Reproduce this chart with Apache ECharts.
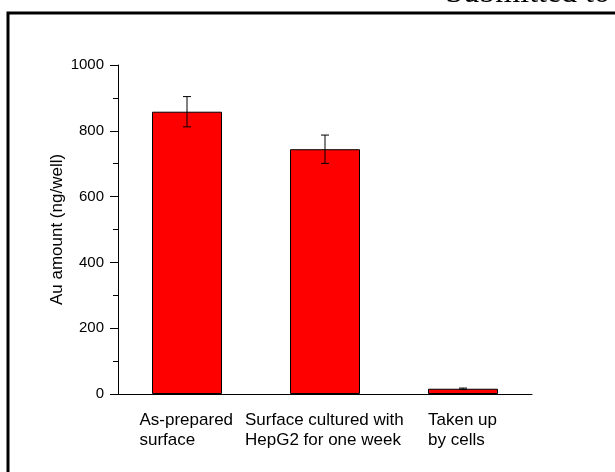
<!DOCTYPE html>
<html>
<head>
<meta charset="utf-8">
<script src="https://cdn.jsdelivr.net/npm/echarts@6/dist/echarts.min.js"></script>
<style>
  html, body { margin: 0; padding: 0; background: #fff; }
  #chart { width: 615px; height: 472px; }
</style>
</head>
<body>
<div id="chart"></div>
<script>
// data
const categories = [
    ['As-prepared', 'surface'],
    ['Surface cultured with', 'HepG2 for one week'],
    ['Taken up', 'by cells']
];
const amounts = [858, 744, 16];
const errors = [46, 43, 2];
const yTicks = [0, 200, 400, 600, 800, 1000];

const labelFont = '17px "Liberation Sans", Arial, sans-serif';

// width of each label block so that the lines can be left aligned
const ctx = document.createElement('canvas').getContext('2d');
ctx.font = labelFont;
const rich = {};
categories.forEach((lines, i) => {
    let w = 0;
    lines.forEach(l => { w = Math.max(w, ctx.measureText(l).width); });
    rich['c' + i] = {
        width: Math.ceil(w) + 1,
        align: 'left',
        fontSize: 17,
        lineHeight: 20,
        fontFamily: '"Liberation Sans", Arial, sans-serif',
        color: '#000'
    };
});
const catNames = categories.map(lines => lines.join('\n'));

const chart = echarts.init(document.getElementById('chart'), null, { renderer: 'canvas' });

const option = {
    backgroundColor: '#fff',
    animation: false,
    textStyle: { fontFamily: '"Liberation Sans", Arial, sans-serif' },
    graphic: [
        {
            type: 'rect',
            shape: { x: 8, y: 13, width: 640, height: 500 },
            style: { fill: 'none', stroke: '#000', lineWidth: 3 },
            silent: true
        },
        {
            type: 'text',
            right: 5,
            top: -22,
            style: {
                text: 'Submitted to',
                font: '32px "Liberation Serif", "Times New Roman", serif',
                fill: '#000'
            },
            silent: true
        }
    ],
    grid: { left: 118, right: 83, top: 65, bottom: 78 },
    xAxis: [
        {
            type: 'category',
            data: catNames,
            axisLine: { lineStyle: { color: '#000', width: 1 } },
            axisTick: { alignWithLabel: true, length: 7, lineStyle: { color: '#000' } },
            axisLabel: {
                margin: 16,
                interval: 0,
                formatter: (value, idx) => value.split('\n').map(l => '{c' + idx + '|' + l + '}').join('\n'),
                rich: rich
            }
        },
        {
            type: 'category',
            data: catNames,
            position: 'bottom',
            axisLine: { show: false },
            axisTick: { length: 4, lineStyle: { color: '#000' } },
            axisLabel: { show: false }
        }
    ],
    yAxis: {
        type: 'value',
        min: yTicks[0],
        max: yTicks[yTicks.length - 1],
        interval: yTicks[1] - yTicks[0],
        name: 'Au amount (ng/well)',
        nameLocation: 'middle',
        nameGap: 52,
        nameMoveOverlap: false,
        nameTextStyle: { fontSize: 17, color: '#000' },
        axisLine: { show: true, lineStyle: { color: '#000', width: 1 } },
        axisTick: { show: true, length: 8, lineStyle: { color: '#000' } },
        minorTick: { show: true, splitNumber: 2, length: 5, lineStyle: { color: '#000' } },
        splitLine: { show: false },
        axisLabel: { fontSize: 15, color: '#000', margin: 14, formatter: v => String(v) }
    },
    series: [
        {
            type: 'bar',
            data: amounts,
            barWidth: 70,
            itemStyle: { color: '#ff0000', borderColor: '#000', borderWidth: 1 }
        },
        {
            type: 'custom',
            data: amounts.map((v, i) => [i, v - errors[i], v + errors[i]]),
            renderItem: (params, api) => {
                const lo = api.coord([api.value(0), api.value(1)]);
                const hi = api.coord([api.value(0), api.value(2)]);
                const x = lo[0];
                const cap = 4;
                const st = { stroke: '#000', lineWidth: 1 };
                return {
                    type: 'group',
                    children: [
                        { type: 'line', shape: { x1: x, y1: lo[1], x2: x, y2: hi[1] }, style: st },
                        { type: 'line', shape: { x1: x - cap, y1: lo[1], x2: x + cap, y2: lo[1] }, style: st },
                        { type: 'line', shape: { x1: x - cap, y1: hi[1], x2: x + cap, y2: hi[1] }, style: st }
                    ]
                };
            },
            z: 5
        }
    ]
};

chart.setOption(option);
</script>
</body>
</html>
